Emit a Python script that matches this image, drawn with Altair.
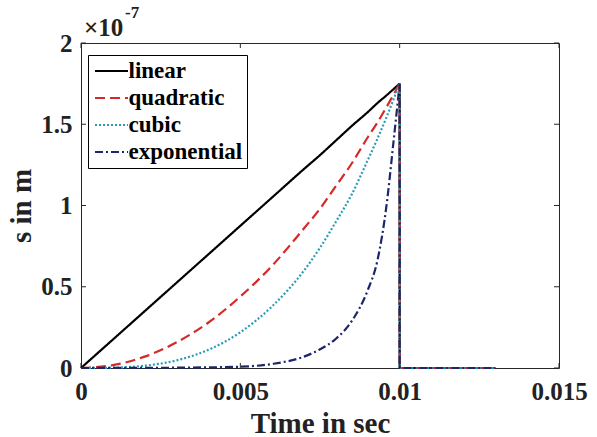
import altair as alt
import pandas as pd

# ---- data (s in units of 1e-7 m) ----
series = ["linear", "quadratic", "cubic", "exponential"]
colors = ["#000000", "#d42a2a", "#2b9cb8", "#1c2769"]
dashes = [[1, 0], [10, 5], [2, 2], [8, 3, 2, 3]]

t_rise = [0, 0.001, 0.002, 0.003, 0.004, 0.005, 0.006, 0.007, 0.0075,
          0.008, 0.0085, 0.009, 0.0093, 0.0096, 0.0098, 0.01]
linear_v = [0, 0.175, 0.35, 0.525, 0.70, 0.875, 1.05, 1.225, 1.31,
            1.40, 1.49, 1.575, 1.63, 1.68, 1.715, 1.75]
quadratic_v = [0, 0.0175, 0.07, 0.158, 0.28, 0.44, 0.63, 0.86, 0.98,
               1.12, 1.26, 1.42, 1.51, 1.61, 1.68, 1.75]
cubic_v = [0, 0.002, 0.014, 0.047, 0.112, 0.22, 0.38, 0.60, 0.74,
           0.90, 1.07, 1.28, 1.41, 1.55, 1.65, 1.75]
exponential_v = [0, 0.0005, 0.001, 0.002, 0.004, 0.008, 0.025, 0.07, 0.115,
                 0.18, 0.29, 0.48, 0.66, 1.02, 1.38, 1.75]

tail_t = [0.01, 0.01, 0.013]
tail_v = [1.75, 0, 0]

x_ticks = [0, 0.005, 0.01, 0.015]
y_ticks = [0, 0.5, 1, 1.5, 2]

# ---- tables ----
rise_vals = [linear_v, quadratic_v, cubic_v, exponential_v]
rise_rows = []
for s, vals in zip(series, rise_vals):
    for i, (t, v) in enumerate(zip(t_rise, vals)):
        rise_rows.append({"series": s, "t": t, "s": v, "ord": i})
rise_df = pd.DataFrame(rise_rows)

tail_rows = []
for s in series:
    for i, (t, v) in enumerate(zip(tail_t, tail_v)):
        tail_rows.append({"series": s, "t": t, "s": v, "ord": i})
tail_df = pd.DataFrame(tail_rows)

xt_df = pd.DataFrame({"t": x_ticks})
yt_df = pd.DataFrame({"s": y_ticks})

W, H = 478, 325
FONT = "Liberation Serif"

xscale = alt.Scale(domain=[0, 0.015], nice=False, zero=False)
yscale = alt.Scale(domain=[0, 2], nice=False)
cscale = alt.Scale(domain=series, range=colors)
dscale = alt.Scale(domain=series, range=dashes)

x_axis = alt.Axis(
    values=x_ticks, labelExpr="'' + datum.value", title="Time in sec",
    titleBaseline="alphabetic", titleY=64, labelPadding=11, labelFlush=False,
)
y_axis = alt.Axis(
    values=y_ticks, labelExpr="'' + datum.value", title="s in m",
    titleBaseline="alphabetic", titleX=-51, titleY=H / 2, titleAngle=270,
    labelPadding=9, labelFlush=False,
)

legend = alt.Legend(title=None, orient="none", legendX=7, legendY=12)

rise = alt.Chart(rise_df).mark_line(strokeWidth=2.2, interpolate="monotone").encode(
    x=alt.X("t:Q", scale=xscale, axis=x_axis),
    y=alt.Y("s:Q", scale=yscale, axis=y_axis),
    color=alt.Color("series:N", scale=cscale, legend=legend, sort=series),
    strokeDash=alt.StrokeDash("series:N", scale=dscale, legend=legend, sort=series),
    order="ord:Q",
)

tail = alt.Chart(tail_df).mark_line(strokeWidth=2.2).encode(
    x=alt.X("t:Q", scale=xscale, axis=x_axis),
    y=alt.Y("s:Q", scale=yscale, axis=y_axis),
    color=alt.Color("series:N", scale=cscale, legend=None),
    strokeDash=alt.StrokeDash("series:N", scale=dscale, legend=None),
    order="ord:Q",
)

tick_col = "#262626"
xb = alt.Chart(xt_df).mark_rule(color=tick_col, strokeWidth=1).encode(
    x=alt.X("t:Q", scale=xscale, axis=x_axis), y=alt.value(H), y2=alt.value(H - 5))
xtp = alt.Chart(xt_df).mark_rule(color=tick_col, strokeWidth=1).encode(
    x=alt.X("t:Q", scale=xscale, axis=x_axis), y=alt.value(0), y2=alt.value(5))
yl = alt.Chart(yt_df).mark_rule(color=tick_col, strokeWidth=1).encode(
    y=alt.Y("s:Q", scale=yscale, axis=y_axis), x=alt.value(0), x2=alt.value(5))
yr = alt.Chart(yt_df).mark_rule(color=tick_col, strokeWidth=1).encode(
    y=alt.Y("s:Q", scale=yscale, axis=y_axis), x=alt.value(W), x2=alt.value(W - 5))

exp_base = alt.Chart(pd.DataFrame({"lab": ["×10"]})).mark_text(
    align="left", baseline="alphabetic", fontWeight="bold",
).encode(
    x=alt.value(3), y=alt.value(-7), text="lab:N",
    size=alt.value(25),
)
exp_sup = alt.Chart(pd.DataFrame({"lab": ["-7"]})).mark_text(
    align="left", baseline="alphabetic", fontWeight="bold",
).encode(
    x=alt.value(44), y=alt.value(-25), text="lab:N",
    size=alt.value(17),
)

chart = alt.layer(rise, tail, xb, xtp, yl, yr, exp_base, exp_sup).properties(
    width=W, height=H,
    autosize=alt.AutoSizeParams(type="none"),
    padding={"left": 81, "top": 43, "right": 38, "bottom": 69},
    background="#ffffff",
).configure_view(
    stroke="#262626", strokeWidth=1,
).configure_axis(
    ticks=False, domain=False, grid=False,
    labelFont=FONT, labelFontWeight="bold", labelFontSize=25,
    labelColor="#222222",
    titleFont=FONT, titleFontWeight="bold", titleFontSize=29,
    titleColor="#222222",
).configure_legend(
    strokeColor="#000000", fillColor="#ffffff", padding=4,
    symbolType="M-1.5,0H1.5", symbolSize=484, symbolStrokeWidth=2,
    symbolOffset=7.5,
    labelFont=FONT, labelFontWeight="bold", labelFontSize=23,
    labelColor="#000000", labelOffset=5, rowPadding=3, cornerRadius=0,
    labelLimit=300,
).configure_text(
    font=FONT, color="#222222",
)

chart.save("out.html", embed_options={"renderer": "svg", "actions": False})
